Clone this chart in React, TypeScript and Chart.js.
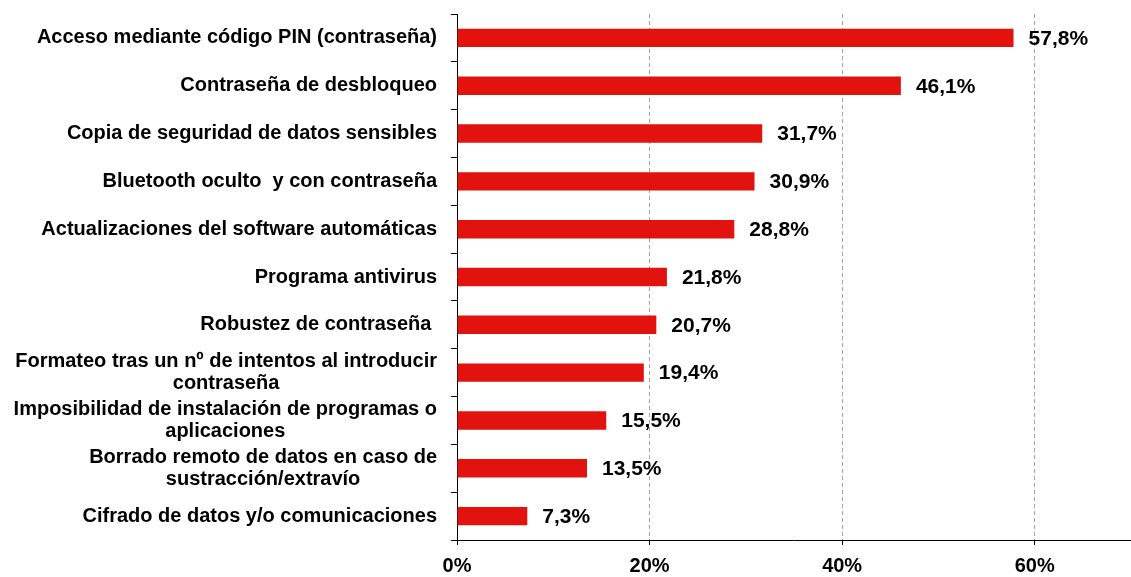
import React, { useEffect, useRef } from "react";
import { Chart, registerables } from "chart.js";

Chart.register(...registerables);

const categories: (string | string[])[] = [
  "Acceso mediante código PIN (contraseña)",
  "Contraseña de desbloqueo",
  "Copia de seguridad de datos sensibles",
  "Bluetooth oculto  y con contraseña",
  "Actualizaciones del software automáticas",
  "Programa antivirus",
  "Robustez de contraseña ",
  ["Formateo tras un nº de intentos al introducir", "contraseña"],
  ["Imposibilidad de instalación de programas o", "aplicaciones"],
  ["Borrado remoto de datos en caso de", "sustracción/extravío"],
  "Cifrado de datos y/o comunicaciones",
];

const values: number[] = [57.8, 46.1, 31.7, 30.9, 28.8, 21.8, 20.7, 19.4, 15.5, 13.5, 7.3];

const xTicks: number[] = [0, 20, 40, 60];
const xMin = 0;
const xMax = 70;

const FONT = '"Liberation Sans", Arial, sans-serif';
const BAR_COLOR = "#E2120E";

const fmt = (v: number) => v.toFixed(1).replace(".", ",") + "%";

const yLabelsPlugin = {
  id: "yLabels",
  afterDraw(chart: any) {
    const ctx = chart.ctx;
    const yScale = chart.scales.y;
    const right = chart.chartArea.left - 20;
    ctx.save();
    ctx.font = `bold 20px ${FONT}`;
    ctx.fillStyle = "#000";
    ctx.textAlign = "center";
    ctx.textBaseline = "middle";
    const lh = 22;
    categories.forEach((lab, i) => {
      const lines = Array.isArray(lab) ? lab : [lab];
      const widest = Math.max(...lines.map((l) => ctx.measureText(l).width));
      const cx = right - widest / 2;
      const cy = yScale.getPixelForValue(i);
      lines.forEach((l, j) => {
        ctx.fillText(l, cx, cy + (j - (lines.length - 1) / 2) * lh);
      });
    });
    ctx.restore();
  },
};

const dataLabelsPlugin = {
  id: "dataLabels",
  afterDatasetsDraw(chart: any) {
    const ctx = chart.ctx;
    const meta = chart.getDatasetMeta(0);
    ctx.save();
    ctx.font = `bold 21px ${FONT}`;
    ctx.fillStyle = "#000";
    ctx.textAlign = "left";
    ctx.textBaseline = "middle";
    meta.data.forEach((bar: any, i: number) => {
      ctx.fillText(fmt(values[i]), bar.x + 15, bar.y + 1);
    });
    ctx.restore();
  },
};

export default function App() {
  const ref = useRef<HTMLCanvasElement>(null);
  useEffect(() => {
    if (!ref.current) return;
    const chart = new Chart(ref.current, {
      type: "bar",
      data: {
        labels: categories.map((c) => (Array.isArray(c) ? c.join(" ") : c)),
        datasets: [
          {
            data: values,
            backgroundColor: BAR_COLOR,
            borderWidth: 0,
            barPercentage: 0.385,
            categoryPercentage: 1,
          },
        ],
      },
      options: {
        indexAxis: "y",
        animation: false,
        responsive: false,
        layout: { padding: { top: 14, left: 0, right: 0, bottom: 0 } },
        plugins: { legend: { display: false }, tooltip: { enabled: false } },
        scales: {
          x: {
            type: "linear",
            min: xMin,
            max: xMax,
            afterBuildTicks: (scale: any) => {
              scale.ticks = xTicks.map((v) => ({ value: v }));
            },
            afterFit: (scale: any) => {
              scale.height = 37;
            },
            ticks: {
              color: "#000",
              font: { family: FONT, size: 20, weight: "bold" },
              padding: 9,
              maxRotation: 0,
              callback: (v: any) => `${v}%`,
            },
            grid: {
              color: (c: any) => (c.tick && c.tick.value === 0 ? "rgba(0,0,0,0)" : "#A6A6A6"),
              lineWidth: 1,
              drawOnChartArea: true,
              drawTicks: true,
              tickLength: 5,
              tickColor: "#000",
              tickBorderDash: [],
            },
            border: { display: true, color: "#000", width: 1, dash: [4, 3] },
          },
          y: {
            type: "category",
            afterFit: (scale: any) => {
              scale.width = 457;
            },
            ticks: { display: false },
            grid: {
              offset: true,
              drawOnChartArea: false,
              drawTicks: true,
              tickLength: 6,
              color: "#000",
              tickColor: "#000",
            },
            border: { display: true, color: "#000", width: 1 },
          },
        },
      },
      plugins: [yLabelsPlugin, dataLabelsPlugin],
    } as any);
    return () => chart.destroy();
  }, []);
  return (
    <div style={{ position: "fixed", left: 0, top: 0, background: "#fff" }}>
      <canvas ref={ref} width={1131} height={577} />
    </div>
  );
}
